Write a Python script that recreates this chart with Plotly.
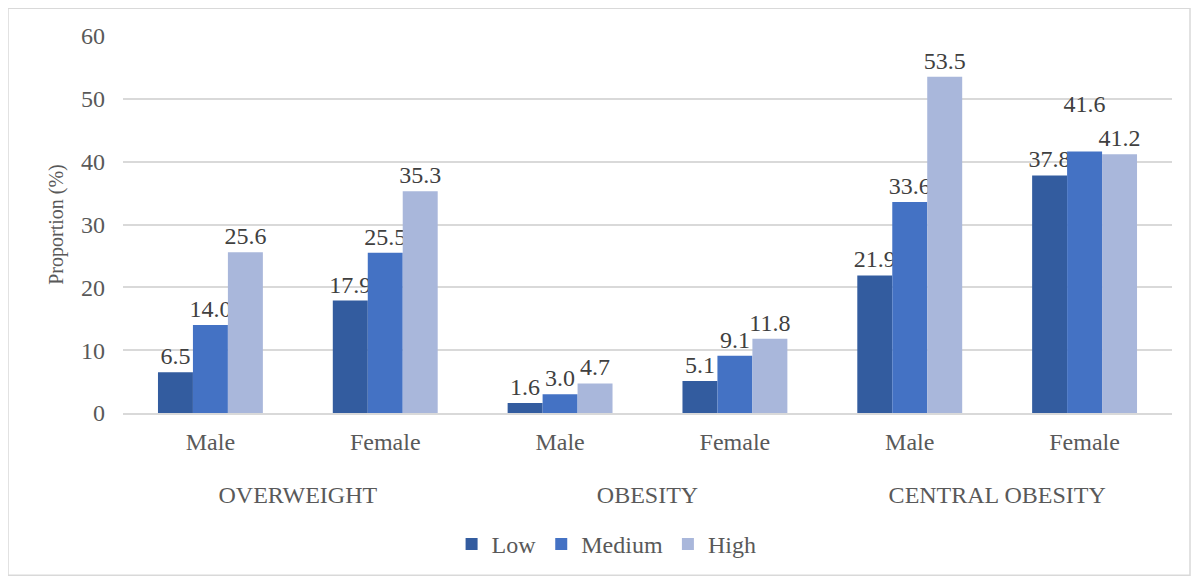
import plotly.graph_objects as go

groups = ["OVERWEIGHT", "OVERWEIGHT", "OBESITY", "OBESITY", "CENTRAL OBESITY", "CENTRAL OBESITY"]
sexes = ["Male", "Female", "Male", "Female", "Male", "Female"]
low = [6.5, 17.9, 1.6, 5.1, 21.9, 37.8]
medium = [14.0, 25.5, 3.0, 9.1, 33.6, 41.6]
high = [25.6, 35.3, 4.7, 11.8, 53.5, 41.2]
series_names = ["Low", "Medium", "High"]
colors = ["#335C9F", "#4472C4", "#A9B7DB"]
# labels lifted one line to avoid collisions (as in the reference)
lifted = {"Medium": [5]}

# page has an 8px body margin; reference coordinates are shifted accordingly
W, H = 1191, 571
L, R, T, B = 115, 27, 28, 164
font = "Times New Roman, Liberation Serif, DejaVu Serif, serif"

group_labels = ["<br>" + g for g in groups]

fig = go.Figure()
for name, vals, c in zip(series_names, [low, medium, high], colors):
    texts = [f"{v:.1f}" for v in vals]
    for i in lifted.get(name, []):
        texts[i] = texts[i] + "<br> "
    fig.add_trace(go.Bar(
        x=[group_labels, sexes], y=vals, name=name, marker=dict(color=c, line=dict(width=0)),
        text=texts, textposition="outside", cliponaxis=False,
        constraintext="none",
        textfont=dict(family=font, size=24, color="#404040"),
    ))

pw = W - L - R
ph = H - T - B
fig.update_layout(
    width=W, height=H, barmode="group", bargap=0.4, bargroupgap=0,
    margin=dict(l=L, r=R, t=T, b=B),
    plot_bgcolor="white", paper_bgcolor="white",
    font=dict(family=font, size=24, color="#595959"),
    legend=dict(orientation="h", x=0.461, xanchor="center", y=-(539 - 407) / ph, yanchor="middle",
                font=dict(family=font, size=24, color="#595959"), itemwidth=30, traceorder="normal"),
    yaxis=dict(range=[0, 60], dtick=10, showgrid=True, gridcolor="#D9D9D9", gridwidth=1.5,
               zeroline=False, ticks="", ticklen=0, ticklabelstandoff=17,
               tickfont=dict(family=font, size=24, color="#595959"),
               title=dict(text="Proportion (%)", font=dict(family=font, size=20, color="#595959"),
                          standoff=12)),
    xaxis=dict(type="multicategory", showdividers=False, showline=True, linecolor="#D9D9D9",
               linewidth=1.5, ticks="", ticklabelstandoff=6,
               tickfont=dict(family=font, size=24, color="#595959")),
    shapes=[dict(type="rect", xref="paper", yref="paper",
                 x0=(0 - L) / pw, x1=(1182 - L) / pw, y0=-(570 - T - ph) / ph, y1=1 + (T - 0) / ph,
                 line=dict(color="#D9D9D9", width=1.5), fillcolor="rgba(0,0,0,0)", layer="below")],
)
fig.write_html("out.html")
